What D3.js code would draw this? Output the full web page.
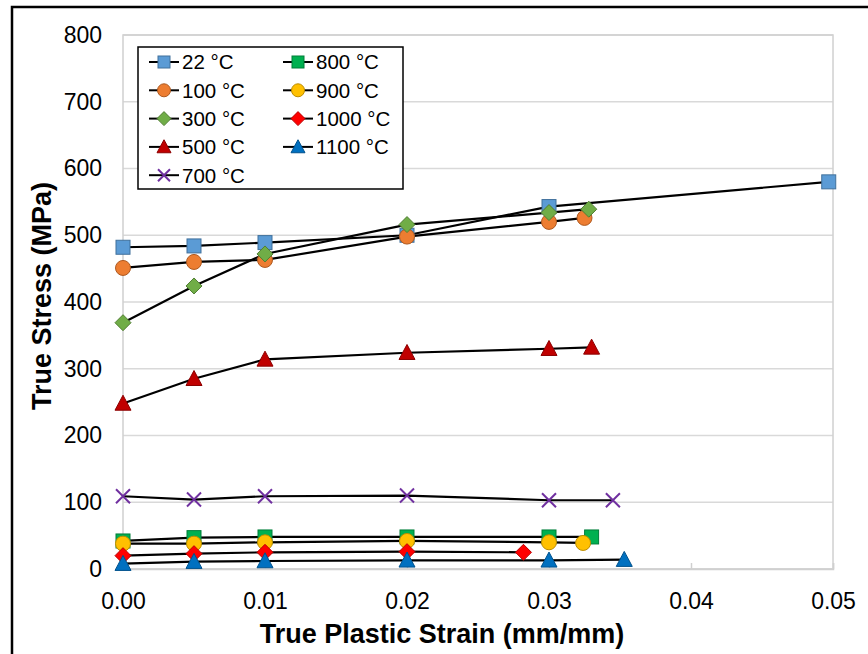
<!DOCTYPE html>
<html>
<head>
<meta charset="utf-8">
<script src="https://cdn.jsdelivr.net/npm/d3@7"></script>
<style>
  html, body { margin: 0; padding: 0; background: #fff; }
  svg { display: block; font-family: Arial, "Liberation Sans", sans-serif; }
</style>
</head>
<body>
<svg id="chart" width="868" height="654"></svg>
<script>
// Flow-curve data: true stress (MPa) vs. true plastic strain (mm/mm)
const seriesNames = ["22 °C", "100 °C", "300 °C", "500 °C", "700 °C", "800 °C", "900 °C", "1000 °C", "1100 °C"];

const strain22   = [0, 0.005, 0.01, 0.02, 0.03, 0.0497];
const stress22   = [482, 484, 489, 500, 543, 580];
const strain100  = [0, 0.005, 0.01, 0.02, 0.03, 0.0325];
const stress100  = [451, 460, 463, 498, 520, 526];
const strain300  = [0, 0.005, 0.01, 0.02, 0.03, 0.0328];
const stress300  = [369, 424, 472, 516, 534, 539];
const strain500  = [0, 0.005, 0.01, 0.02, 0.03, 0.033];
const stress500  = [248, 285, 314, 324, 330, 332];
const strain700  = [0, 0.005, 0.01, 0.02, 0.03, 0.0345];
const stress700  = [109, 104, 109, 110, 103, 103];
const strain800  = [0, 0.005, 0.01, 0.02, 0.03, 0.033];
const stress800  = [42, 47, 48, 48, 48, 48];
const strain900  = [0, 0.005, 0.01, 0.02, 0.03, 0.0324];
const stress900  = [38, 38, 40, 42, 40, 39];
const strain1000 = [0, 0.005, 0.01, 0.02, 0.0282];
const stress1000 = [20, 23, 25, 26, 25];
const strain1100 = [0, 0.005, 0.01, 0.02, 0.03, 0.0353];
const stress1100 = [8, 11, 12, 13, 13, 14];

const xTicks = [0, 0.01, 0.02, 0.03, 0.04, 0.05];
const yTicks = [0, 100, 200, 300, 400, 500, 600, 700, 800];

// marker styling per series
const styles = [
  { shape: "square",   fill: "#5B9BD5", stroke: "#41719C" },
  { shape: "circle",   fill: "#ED7D31", stroke: "#AE5A21" },
  { shape: "diamond",  fill: "#70AD47", stroke: "#507E32" },
  { shape: "triangle", fill: "#C00000", stroke: "#8C0000" },
  { shape: "cross",    fill: "none",    stroke: "#7030A0" },
  { shape: "square",   fill: "#00B050", stroke: "#007E39" },
  { shape: "circle",   fill: "#FFC000", stroke: "#BC8C00" },
  { shape: "diamond",  fill: "#FF0000", stroke: "#BA0000" },
  { shape: "triangle", fill: "#0070C0", stroke: "#00518C" }
];

const strains = [strain22, strain100, strain300, strain500, strain700, strain800, strain900, strain1000, strain1100];
const stresses = [stress22, stress100, stress300, stress500, stress700, stress800, stress900, stress1000, stress1100];
const series = seriesNames.map((name, i) => ({
  name,
  style: styles[i],
  points: strains[i].map((x, j) => ({ x, y: stresses[i][j] }))
}));

const svg = d3.select("#chart");
const plot = { left: 123, right: 833, top: 35, bottom: 569 };

const x = d3.scaleLinear().domain([0, 0.05]).range([plot.left, plot.right]);
const y = d3.scaleLinear().domain([0, 800]).range([plot.bottom, plot.top]);

// outer chart frame
svg.append("rect")
  .attr("x", 12).attr("y", 7)
  .attr("width", 900).attr("height", 700)
  .attr("fill", "#fff").attr("stroke", "#000").attr("stroke-width", 2.5);

// horizontal gridlines
svg.append("g")
  .selectAll("line")
  .data(yTicks)
  .join("line")
  .attr("x1", plot.left).attr("x2", plot.right)
  .attr("y1", d => y(d)).attr("y2", d => y(d))
  .attr("stroke", "#d9d9d9").attr("stroke-width", 1.5);

// plot-area border
svg.append("rect")
  .attr("x", plot.left).attr("y", plot.top)
  .attr("width", plot.right - plot.left).attr("height", plot.bottom - plot.top)
  .attr("fill", "none").attr("stroke", "#d0d0d0").attr("stroke-width", 1.5);

// x axis: inside tick marks + labels
const xAxis = d3.axisBottom(x)
  .tickValues(xTicks)
  .tickSize(-6)
  .tickPadding(24)
  .tickFormat(d3.format(".2f"));
const gx = svg.append("g").attr("transform", `translate(0,${plot.bottom})`).call(xAxis);
gx.select(".domain").attr("stroke", "#d0d0d0").attr("stroke-width", 1.5);
gx.selectAll(".tick line").attr("stroke", "#d0d0d0").attr("stroke-width", 1.5);
gx.selectAll(".tick text")
  .attr("font-size", 23).attr("fill", "#000")
  .attr("font-family", "Arial, 'Liberation Sans', sans-serif");

// y axis labels
const yAxis = d3.axisLeft(y)
  .tickValues(yTicks)
  .tickSize(0)
  .tickPadding(21)
  .tickFormat(d3.format("d"));
const gy = svg.append("g").attr("transform", `translate(${plot.left},0)`).call(yAxis);
gy.select(".domain").remove();
gy.selectAll(".tick text")
  .attr("font-size", 23).attr("fill", "#000")
  .attr("font-family", "Arial, 'Liberation Sans', sans-serif");

// axis titles
svg.append("text")
  .attr("x", 442).attr("y", 643)
  .attr("text-anchor", "middle")
  .attr("font-size", 27).attr("font-weight", "bold")
  .text("True Plastic Strain (mm/mm)");
svg.append("text")
  .attr("transform", "translate(51,296) rotate(-90)")
  .attr("text-anchor", "middle")
  .attr("font-size", 27).attr("font-weight", "bold")
  .text("True Stress (MPa)");

// marker drawing
function drawMarker(g, style, cx, cy, s) {
  const st = style;
  if (st.shape === "square") {
    g.append("rect")
      .attr("x", cx - s / 2).attr("y", cy - s / 2)
      .attr("width", s).attr("height", s)
      .attr("fill", st.fill).attr("stroke", st.stroke).attr("stroke-width", 1);
  } else if (st.shape === "circle") {
    g.append("circle")
      .attr("cx", cx).attr("cy", cy).attr("r", s / 2 + 0.5)
      .attr("fill", st.fill).attr("stroke", st.stroke).attr("stroke-width", 1);
  } else if (st.shape === "diamond") {
    const h = s / 2 + 1;
    g.append("path")
      .attr("d", `M${cx},${cy - h}L${cx + h},${cy}L${cx},${cy + h}L${cx - h},${cy}Z`)
      .attr("fill", st.fill).attr("stroke", st.stroke).attr("stroke-width", 1);
  } else if (st.shape === "triangle") {
    const w = s + 2, ht = s + 1;
    g.append("path")
      .attr("d", `M${cx},${cy - ht * 0.55}L${cx + w / 2},${cy + ht * 0.45}L${cx - w / 2},${cy + ht * 0.45}Z`)
      .attr("fill", st.fill).attr("stroke", st.stroke).attr("stroke-width", 1);
  } else if (st.shape === "cross") {
    const h = s / 2;
    g.append("path")
      .attr("d", `M${cx - h},${cy - h}L${cx + h},${cy + h}M${cx - h},${cy + h}L${cx + h},${cy - h}`)
      .attr("fill", "none").attr("stroke", st.stroke).attr("stroke-width", 2);
  }
}

const line = d3.line().x(d => x(d.x)).y(d => y(d.y));

// series lines
svg.append("g")
  .selectAll("path")
  .data(series)
  .join("path")
  .attr("d", d => line(d.points))
  .attr("fill", "none")
  .attr("stroke", "#000")
  .attr("stroke-width", 2.2);

// series markers
const markerLayer = svg.append("g");
series.forEach(s => {
  const g = markerLayer.append("g");
  s.points.forEach(p => drawMarker(g, s.style, x(p.x), y(p.y), 14));
});

// legend
const legend = svg.append("g");
legend.append("rect")
  .attr("x", 138).attr("y", 47)
  .attr("width", 265).attr("height", 142)
  .attr("fill", "#fff").attr("stroke", "#000").attr("stroke-width", 1.5);

const colX = [149, 283];
const rowY0 = 62, rowGap = 28.3;
series.forEach((s, i) => {
  const col = i < 5 ? 0 : 1;
  const row = i < 5 ? i : i - 5;
  const lx = colX[col];
  const ly = rowY0 + row * rowGap;
  const g = legend.append("g");
  g.append("line")
    .attr("x1", lx).attr("x2", lx + 30)
    .attr("y1", ly).attr("y2", ly)
    .attr("stroke", "#000").attr("stroke-width", 2);
  drawMarker(g, s.style, lx + 15, ly, 12);
  g.append("text")
    .attr("x", lx + 33).attr("y", ly)
    .attr("dy", "0.36em")
    .attr("font-size", 20.5)
    .text(s.name);
});
</script>
</body>
</html>
